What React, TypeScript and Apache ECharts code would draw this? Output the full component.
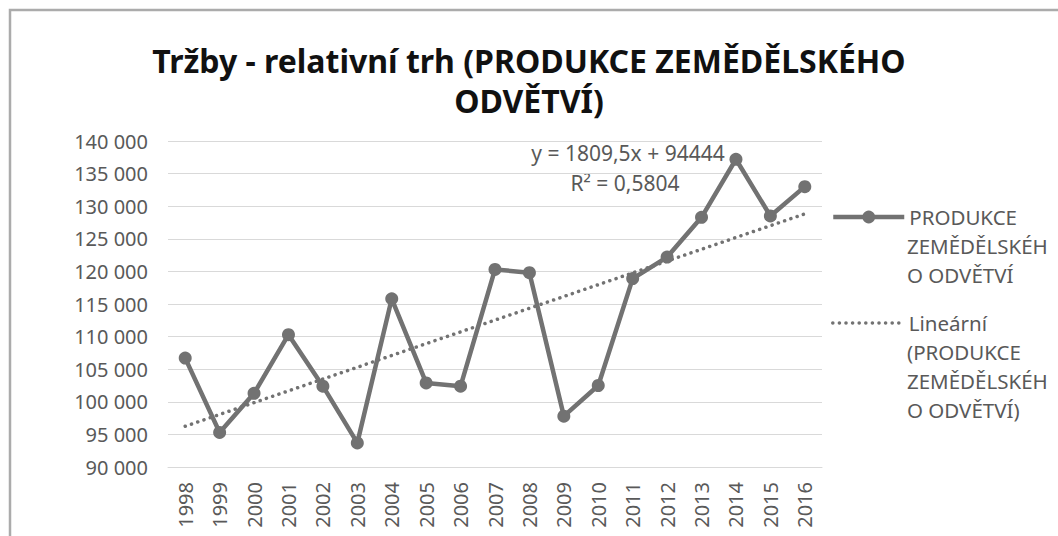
import React, { useEffect, useRef } from "react";
import * as echarts from "echarts";

const years = ["1998", "1999", "2000", "2001", "2002", "2003", "2004", "2005", "2006", "2007", "2008", "2009", "2010", "2011", "2012", "2013", "2014", "2015", "2016"];
const production = [106700, 95300, 101300, 110300, 102400, 93700, 115800, 102900, 102400, 120300, 119800, 97800, 102500, 118900, 122200, 128300, 137200, 128500, 133000];
// Linear trend end points as drawn (y = 1809,5x + 94444)
const trendStart = 96250;
const trendEnd = 128820;

const seriesName = "PRODUKCE ZEMĚDĚLSKÉHO ODVĚTVÍ";
const trendName = "Lineární (PRODUKCE ZEMĚDĚLSKÉHO ODVĚTVÍ)";
const legendFirst: Record<string, string> = {
  [seriesName]: "PRODUKCE",
  [trendName]: "Lineární",
};
const legendRest1 = ["ZEMĚDĚLSKÉH", "O ODVĚTVÍ"];
const legendRest2 = ["(PRODUKCE", "ZEMĚDĚLSKÉH", "O ODVĚTVÍ)"];
const titleText = "Tržby - relativní trh (PRODUKCE ZEMĚDĚLSKÉHO\nODVĚTVÍ)";
const equationText = "y = 1809,5x + 94444";
const r2Text = "R² = 0,5804";

const FONT = "'Noto Sans', sans-serif";
const GRAY = "#595959";
const LINE = "#727272";
const LH = 29;
const LEG_FS = 20.5;

export default function App() {
  const ref = useRef<HTMLDivElement>(null);
  useEffect(() => {
    if (!ref.current) return;
    const chart = echarts.init(ref.current, undefined, { renderer: "svg" });
    const trendData = years.map((_, i) => (i === 0 ? trendStart : i === years.length - 1 ? trendEnd : null));
    const legendText = { color: GRAY, fontSize: LEG_FS, fontFamily: FONT, lineHeight: LH };
    const cont = (lines: string[], y0: number) =>
      lines.map((t, i) => ({
        type: "text",
        x: 907,
        y: y0 + i * LH,
        style: { text: t, fill: GRAY, fontSize: LEG_FS, fontFamily: FONT, textAlign: "left", textVerticalAlign: "middle" },
      }));
    chart.setOption({
      animation: false,
      backgroundColor: "#ffffff",
      title: {
        text: titleText,
        left: "center",
        top: 35,
        textStyle: { fontFamily: FONT, fontWeight: "bold", fontSize: 32, color: "#111111", lineHeight: 40 },
      },
      grid: { left: 168, right: 236, top: 141, bottom: 69, containLabel: false },
      legend: [
        {
          data: [seriesName],
          left: 831,
          top: 217 - LH / 2,
          padding: 0,
          itemWidth: 71,
          itemHeight: 16,
          selectedMode: false,
          lineStyle: { width: 4.5 },
          textStyle: legendText,
          formatter: (n: string) => legendFirst[n] || n,
        },
        {
          data: [trendName],
          left: 831,
          top: 323 - LH / 2,
          padding: 0,
          itemWidth: 71,
          itemHeight: 16,
          selectedMode: false,
          lineStyle: { width: 3.5, type: [0.1, 6.5], cap: "round" },
          itemStyle: { opacity: 0 },
          textStyle: legendText,
          formatter: (n: string) => legendFirst[n] || n,
        },
      ],
      xAxis: {
        type: "category",
        data: years,
        boundaryGap: true,
        axisLine: { lineStyle: { color: "#d9d9d9", width: 1 } },
        axisTick: { show: false },
        axisLabel: { rotate: 90, margin: 15, color: GRAY, fontSize: 20, fontFamily: FONT },
      },
      yAxis: {
        type: "value",
        min: 90000,
        max: 140000,
        interval: 5000,
        axisLine: { show: false },
        axisTick: { show: false },
        splitLine: { lineStyle: { color: "#d9d9d9", width: 1 } },
        axisLabel: {
          margin: 20,
          color: GRAY,
          fontSize: 20,
          fontFamily: FONT,
          formatter: (v: number) => String(v).replace(/\B(?=(\d{3})+(?!\d))/g, " "),
        },
      },
      series: [
        {
          name: seriesName,
          type: "line",
          data: production,
          symbol: "circle",
          symbolSize: 13,
          itemStyle: { color: LINE },
          lineStyle: { color: LINE, width: 4.5 },
          z: 3,
        },
        {
          name: trendName,
          type: "line",
          data: trendData,
          connectNulls: true,
          symbol: "none",
          itemStyle: { color: LINE },
          lineStyle: { color: LINE, width: 3.5, type: [0.1, 6.5], cap: "round" },
          z: 2,
        },
      ],
      graphic: [
        {
          type: "rect",
          shape: { x: 10, y: 10, width: 1100, height: 600 },
          style: { fill: "none", stroke: "#ababab", lineWidth: 2.5 },
          silent: true,
        },
        {
          type: "text",
          x: 628,
          y: 153,
          style: { text: equationText, fill: GRAY, fontSize: 21, fontFamily: FONT, textAlign: "center", textVerticalAlign: "middle" },
        },
        {
          type: "text",
          x: 625,
          y: 183,
          style: { text: r2Text, fill: GRAY, fontSize: 21, fontFamily: FONT, textAlign: "center", textVerticalAlign: "middle" },
        },
        ...cont(legendRest1, 217 + LH),
        ...cont(legendRest2, 323 + LH),
      ],
    });
    return () => chart.dispose();
  }, []);
  return <div ref={ref} style={{ position: "fixed", left: 0, top: 0, width: 1058, height: 536 }} />;
}
